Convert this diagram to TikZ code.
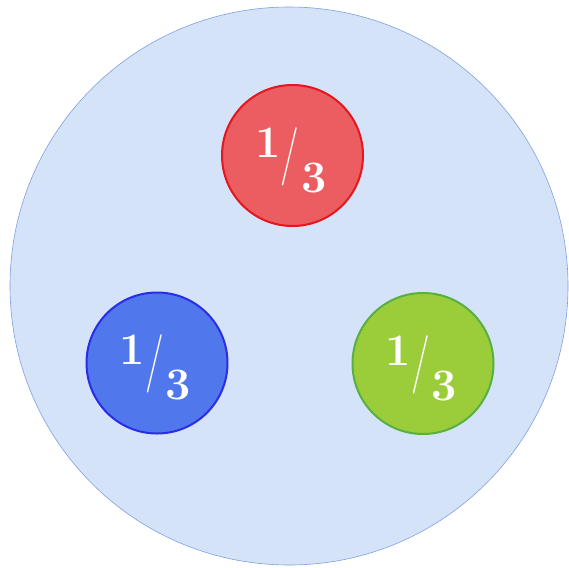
\documentclass[tikz,border=0pt]{standalone}
\usepackage{graphicx}
\definecolor{bgfill}{HTML}{D4E3F7}
\definecolor{bgline}{HTML}{7F9FE3}
\definecolor{rfill}{HTML}{EB5D60}
\definecolor{rline}{HTML}{E5161D}
\definecolor{bfill}{HTML}{5077EC}
\definecolor{bline}{HTML}{2A2DE6}
\definecolor{gfill}{HTML}{9BCD3B}
\definecolor{gline}{HTML}{58AF42}
\newcommand{\onethird}{\fontsize{45}{45}\selectfont\bfseries\raisebox{14pt}{1}\kern0pt\scalebox{0.9}[1.3]{\mdseries/}\kern2pt\raisebox{-21pt}{3}}
\tikzset{
  ball/.style={circle, minimum size=141pt, inner sep=0pt, line width=2pt},
  frac/.style={text=white, inner sep=0pt}
}
\begin{document}
\begin{tikzpicture}[x=1pt,y=-1pt]
\useasboundingbox (0,0) rectangle (569,567);
\node[circle, minimum size=558pt, inner sep=0pt, draw=bgline, fill=bgfill, line width=0.6pt] (outer) at (289,286) {};
\node[ball, fill=rfill, draw=rline] (red) at (292.5,155.5) {};
\node[ball, fill=bfill, draw=bline] (blue) at (157,363) {};
\node[ball, fill=gfill, draw=gline] (green) at (423,363.5) {};
\node[frac] (rt) at (291,160) {\onethird};
\node[frac] (bt) at (155.5,367.5) {\onethird};
\node[frac] (gt) at (421.5,368) {\onethird};
\end{tikzpicture}
\end{document}
